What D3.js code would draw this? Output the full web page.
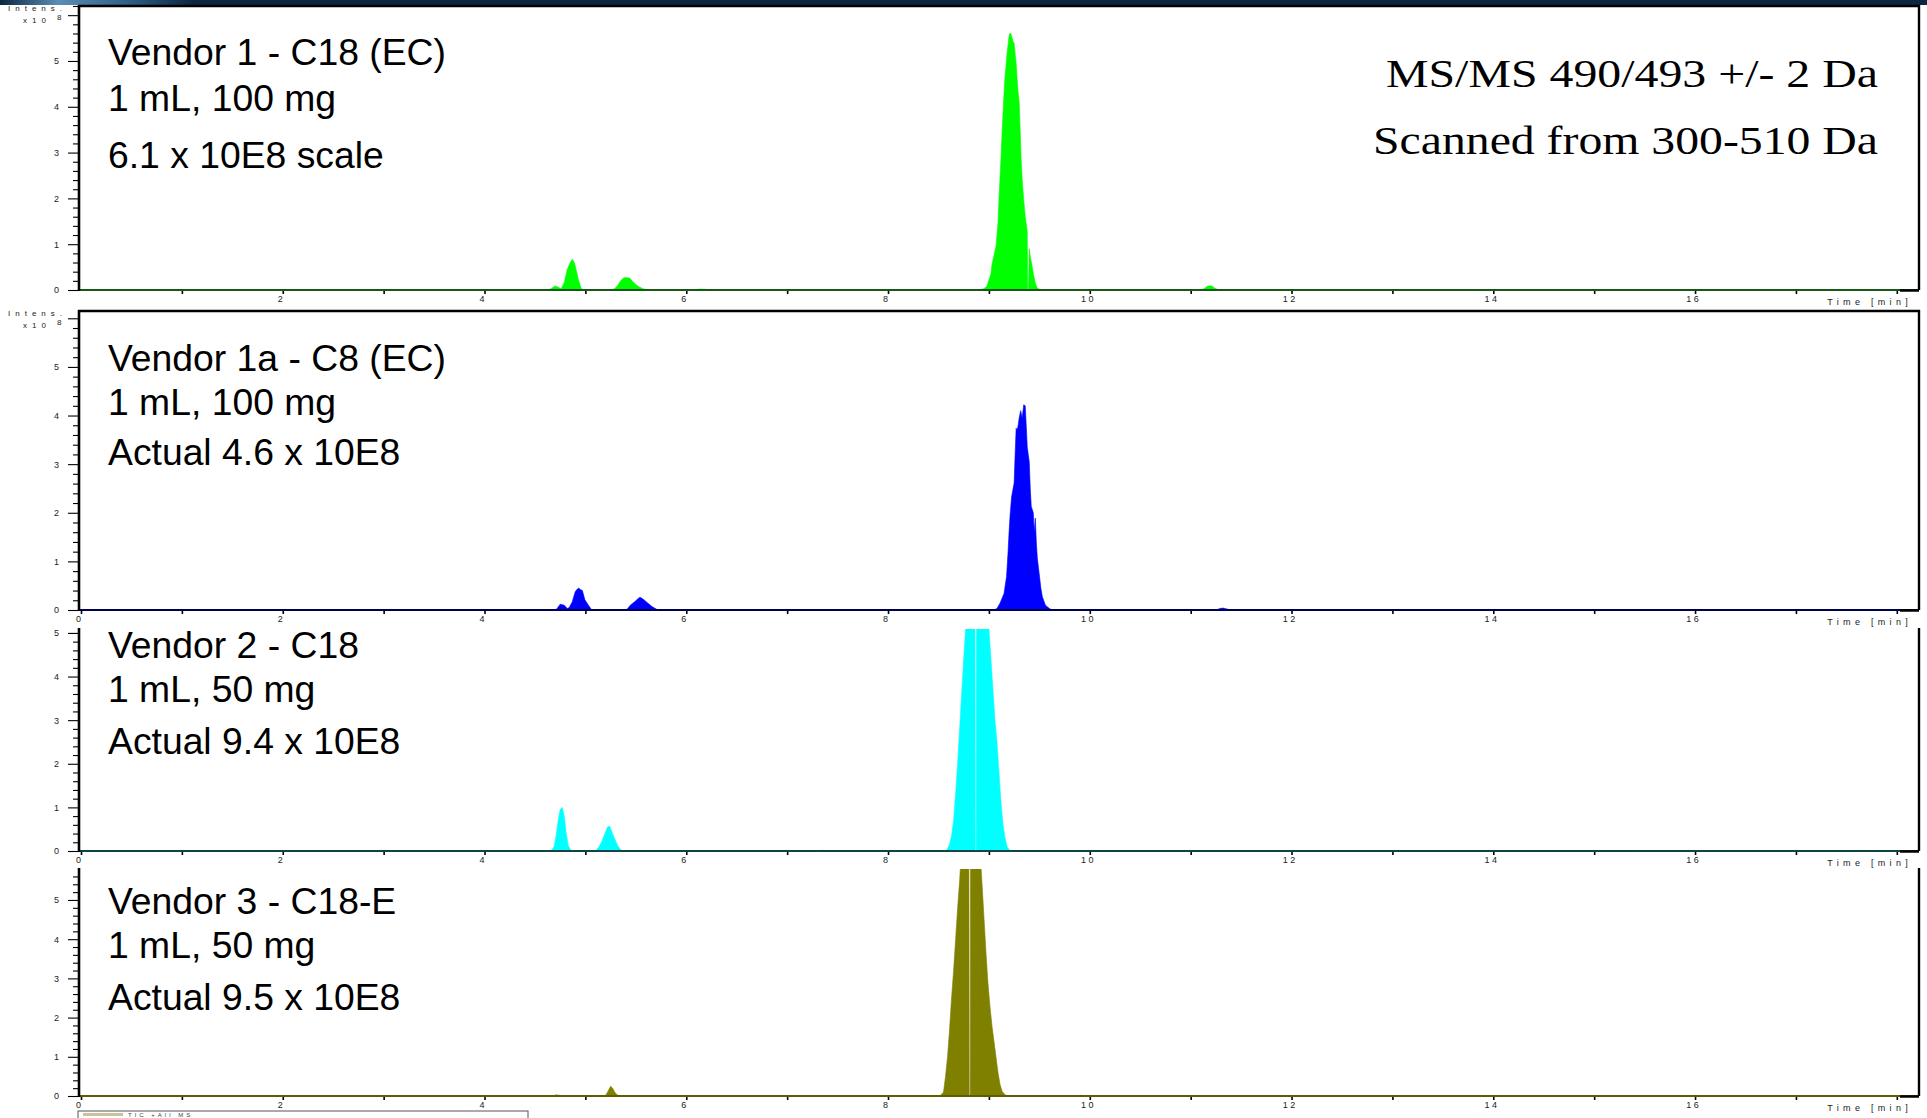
<!DOCTYPE html>
<html>
<head>
<meta charset="utf-8">
<script src="https://cdn.jsdelivr.net/npm/d3@7"></script>
<style>
  html, body { margin: 0; padding: 0; background: #ffffff; overflow: hidden; }
  svg { display: block; }
</style>
</head>
<body>
<script>
// ---------------- DATA ----------------
// Time axis ticks (minutes)
const timeTicks = [0,1,2,3,4,5,6,7,8,9,10,11,12,13,14,15,16,17,18];
const timeLabels = [0,2,4,6,8,10,12,14,16];
const intensityLabels = [0,1,2,3,4,5];

// Panel annotation text
const panelLabels = [
  ["Vendor 1 - C18 (EC)", "1 mL, 100 mg", "6.1 x 10E8 scale"],
  ["Vendor 1a - C8 (EC)", "1 mL, 100 mg", "Actual 4.6 x 10E8"],
  ["Vendor 2 - C18", "1 mL, 50 mg", "Actual 9.4 x 10E8"],
  ["Vendor 3 - C18-E", "1 mL, 50 mg", "Actual 9.5 x 10E8"]
];
const methodNotes = ["MS/MS 490/493 +/- 2 Da", "Scanned from 300-510 Da"];

// Chromatogram traces: [time (min), intensity (x10^8)]
const vendor1Trace = [[0,0],[4.62,0],[4.66,0.03],[4.70,0.09],[4.73,0.06],[4.76,0.03],[4.79,0.16],[4.82,0.45],[4.85,0.6],[4.87,0.67],[4.89,0.6],[4.90,0.52],[4.93,0.23],[4.96,0.03],[4.99,0],
  [5.25,0],[5.29,0.03],[5.32,0.1],[5.35,0.2],[5.38,0.27],[5.41,0.27],[5.44,0.26],[5.47,0.18],[5.50,0.12],[5.53,0.07],[5.57,0.03],[5.62,0],
  [6.08,0],[6.12,0.02],[6.18,0.02],[6.22,0],
  [8.90,0],[8.95,0.03],[8.98,0.08],[9.00,0.22],[9.02,0.35],[9.03,0.55],[9.05,0.75],[9.07,0.95],[9.09,1.46],[9.10,2.0],[9.12,2.88],[9.13,3.4],[9.14,3.86],[9.15,4.3],[9.16,4.66],[9.17,4.9],[9.18,5.17],[9.19,5.35],[9.20,5.55],[9.21,5.61],[9.22,5.58],[9.23,5.5],[9.24,5.42],[9.25,5.39],[9.26,5.15],[9.27,4.95],[9.28,4.6],[9.29,4.3],[9.30,4.11],[9.31,3.5],[9.32,2.84],[9.33,2.4],[9.345,1.97],[9.36,1.6],[9.38,1.28],[9.385,0],[9.393,0],[9.40,0.9],[9.41,0.73],[9.43,0.5],[9.44,0.36],[9.46,0.15],[9.48,0.04],[9.52,0],
  [11.10,0],[11.14,0.04],[11.17,0.09],[11.21,0.09],[11.24,0.04],[11.28,0],[18.22,0]];

const vendor1aTrace = [[0,0],[4.70,0],[4.72,0.03],[4.75,0.12],[4.77,0.11],[4.79,0.10],[4.82,0.03],[4.84,0.05],[4.87,0.17],[4.90,0.38],[4.92,0.43],[4.935,0.45],[4.95,0.42],[4.97,0.40],[4.995,0.21],[5.03,0.10],[5.06,0.01],[5.09,0],
  [5.40,0],[5.42,0.03],[5.445,0.1],[5.47,0.14],[5.50,0.19],[5.52,0.23],[5.54,0.26],[5.56,0.24],[5.58,0.21],[5.62,0.14],[5.66,0.07],[5.71,0.01],[5.74,0],
  [9.03,0],[9.06,0.01],[9.08,0.03],[9.11,0.14],[9.15,0.34],[9.175,0.69],[9.19,1.2],[9.20,1.61],[9.21,1.95],[9.225,2.33],[9.24,2.5],[9.25,2.61],[9.26,3.2],[9.27,3.74],[9.28,3.7],[9.29,3.8],[9.30,3.95],[9.315,4.10],[9.33,3.95],[9.345,4.22],[9.36,4.2],[9.37,3.8],[9.38,3.36],[9.39,3.2],[9.40,3.05],[9.41,2.5],[9.42,2.13],[9.44,2.0],[9.45,1.6],[9.46,1.89],[9.47,1.4],[9.48,1.07],[9.50,0.72],[9.515,0.45],[9.53,0.27],[9.56,0.10],[9.60,0.03],[9.63,0],
  [11.25,0],[11.29,0.03],[11.32,0.04],[11.36,0.02],[11.40,0],[18.22,0]];

const vendor2Trace = [[0,0],[4.66,0],[4.69,0.1],[4.71,0.35],[4.73,0.7],[4.75,0.95],[4.77,1.0],[4.79,0.8],[4.81,0.4],[4.83,0.12],[4.86,0],
  [5.10,0],[5.13,0.08],[5.16,0.2],[5.19,0.38],[5.22,0.55],[5.24,0.57],[5.26,0.45],[5.29,0.28],[5.32,0.12],[5.35,0.03],[5.38,0],
  [7.30,0],[7.35,0.02],[7.40,0],
  [8.57,0],[8.59,0.05],[8.61,0.15],[8.63,0.35],[8.65,0.7],[8.67,1.3],[8.69,2.0],[8.71,2.8],[8.73,3.6],[8.75,4.4],[8.77,5.1],[8.80,6.6],[8.83,7.9],[8.86,8.9],[8.865,0],[8.875,0],[8.88,9.4],[8.91,9.0],[8.94,7.9],[8.97,6.5],[9.00,5.1],[9.02,4.4],[9.04,3.7],[9.06,3.0],[9.08,2.5],[9.10,1.8],[9.12,1.1],[9.14,0.6],[9.16,0.3],[9.18,0.1],[9.21,0],
  [15.41,0],[15.44,0.015],[15.47,0],[18.22,0]];

const vendor3Trace = [[0,0],[4.68,0],[4.71,0.03],[4.74,0.02],[4.76,0],
  [5.19,0],[5.21,0.05],[5.23,0.15],[5.25,0.25],[5.27,0.2],[5.29,0.1],[5.31,0.04],[5.34,0],
  [8.51,0],[8.53,0.04],[8.55,0.1],[8.57,0.5],[8.59,1.0],[8.61,1.7],[8.63,2.5],[8.65,3.2],[8.67,4.0],[8.69,4.8],[8.71,5.5],[8.73,6.4],[8.76,7.6],[8.78,8.8],[8.80,9.5],[8.805,0],[8.815,0],[8.82,9.3],[8.85,8.6],[8.88,7.5],[8.91,6.3],[8.93,5.5],[8.95,4.6],[8.97,3.7],[8.99,2.9],[9.01,2.3],[9.03,1.8],[9.05,1.4],[9.07,1.0],[9.09,0.6],[9.11,0.3],[9.13,0.12],[9.16,0.03],[9.19,0],
  [9.88,0],[9.91,0.02],[9.94,0],[15.97,0],[16.0,0.02],[16.03,0],[18.22,0]];

const traces = [vendor1Trace, vendor1aTrace, vendor2Trace, vendor3Trace];
const traceColors = ["#00ff00", "#0000ff", "#00ffff", "#808000"];
const baselineColors = ["#145a14", "#000050", "#0f4444", "#5e5e00"];

// ---------------- LAYOUT ----------------
const W = 1927, H = 1118;
const axisX = 79, rightX = 1919;
const layout = [
  { top: 6,   base: 290,  yMax: 6.20, border: true,  intens: true,  firstLabel: 2, labelY: [65, 111, 168] },
  { top: 311, base: 610,  yMax: 6.15, border: true,  intens: true,  firstLabel: 0, labelY: [371, 415, 465] },
  { top: 629, base: 851,  yMax: 5.09, border: false, intens: false, firstLabel: 0, labelY: [658, 702, 754] },
  { top: 869, base: 1096, yMax: 5.79, border: false, intens: false, firstLabel: 0, labelY: [914, 958, 1010] }
];

const svg = d3.select("body").append("svg").attr("width", W).attr("height", H);

// top banner strip (slide header remnant)
const defs = svg.append("defs");
const grad = defs.append("linearGradient").attr("id", "bannerGrad").attr("x1", "0").attr("x2", "1");
grad.append("stop").attr("offset", "0").attr("stop-color", "#0b2640");
grad.append("stop").attr("offset", "0.03").attr("stop-color", "#5b8db5");
grad.append("stop").attr("offset", "0.07").attr("stop-color", "#2a5a80");
grad.append("stop").attr("offset", "0.1").attr("stop-color", "#0b2640");
grad.append("stop").attr("offset", "1").attr("stop-color", "#0b2640");
svg.append("rect").attr("x", 0).attr("y", 0).attr("width", W).attr("height", 5).attr("fill", "url(#bannerGrad)");

const x = d3.scaleLinear().domain([0, 18.22]).range([81, rightX]);
const smallFont = "'Liberation Sans', Arial, sans-serif";
const spaced = s => String(s).split("").join(" ");

layout.forEach((p, i) => {
  const g = svg.append("g");
  const y = d3.scaleLinear().domain([0, p.yMax]).range([p.base, p.top]);

  defs.append("clipPath").attr("id", "clip" + i)
    .append("rect").attr("x", axisX).attr("y", p.top).attr("width", rightX - axisX).attr("height", p.base - p.top);

  // trace
  const area = d3.area().x(d => x(d[0])).y0(y(0)).y1(d => y(d[1])).curve(d3.curveLinear);
  g.append("path").datum(traces[i])
    .attr("clip-path", "url(#clip" + i + ")")
    .attr("fill", traceColors[i]).attr("stroke", traceColors[i]).attr("stroke-width", 0.6)
    .attr("d", area);

  // x axis
  const xTicks = timeTicks.filter(t => t >= (i === 0 ? 1 : 0));
  const xAxis = d3.axisBottom(x).tickValues(xTicks).tickSize(4).tickSizeOuter(0)
    .tickFormat(d => (timeLabels.includes(d) && d >= p.firstLabel) ? spaced(d) : "");
  const xg = g.append("g").attr("transform", `translate(0,${p.base})`).call(xAxis);
  xg.select(".domain").remove();
  xg.selectAll(".tick line").attr("stroke", "#000").attr("stroke-width", 1.6);
  xg.selectAll(".tick text").attr("font-family", smallFont).attr("font-size", 9).attr("fill", "#222")
    .attr("dy", "0.35em").attr("y", 9).attr("dx", -3);
  g.append("line").attr("x1", axisX).attr("x2", rightX).attr("y1", p.base).attr("y2", p.base)
    .attr("stroke", baselineColors[i]).attr("stroke-width", 2.2);
  g.append("line").attr("x1", 1900).attr("x2", rightX).attr("y1", p.base + 0.5).attr("y2", p.base + 0.5)
    .attr("stroke", "#000").attr("stroke-width", 2.5);
  g.append("text").attr("x", 1912).attr("y", p.base + 15).attr("text-anchor", "end")
    .attr("font-family", smallFont).attr("font-size", 9).attr("fill", "#222")
    .attr("letter-spacing", "4.3px").text("Time [min]");

  // y axis: minor ticks every 0.2, major at integers
  const minor = d3.range(0, Math.floor(p.yMax * 5 + 1e-6) + 1).map(k => +(k * 0.2).toFixed(1)).filter(v => Math.abs(v - Math.round(v)) > 1e-6);
  const major = d3.range(0, Math.floor(p.yMax) + 1);
  const yMinor = d3.axisLeft(y).tickValues(minor).tickSize(6).tickFormat("");
  const yMajor = d3.axisLeft(y).tickValues(major).tickSize(11).tickSizeOuter(0)
    .tickFormat(d => intensityLabels.includes(d) ? d : "");
  const ymg = g.append("g").attr("transform", `translate(${axisX},0)`).call(yMinor);
  ymg.select(".domain").remove();
  ymg.selectAll(".tick line").attr("stroke", "#000").attr("stroke-width", 1.1);
  const yg = g.append("g").attr("transform", `translate(${axisX},0)`).call(yMajor);
  yg.select(".domain").remove();
  yg.selectAll(".tick line").attr("stroke", "#000").attr("stroke-width", 1.1);
  yg.selectAll(".tick text").attr("font-family", smallFont).attr("font-size", 9).attr("fill", "#222").attr("x", -20);
  g.append("line").attr("x1", axisX).attr("x2", axisX).attr("y1", p.top - 1).attr("y2", p.base + 1)
    .attr("stroke", "#000").attr("stroke-width", 2.6);

  // frame
  g.append("line").attr("x1", rightX).attr("x2", rightX).attr("y1", p.top - 1).attr("y2", p.base)
    .attr("stroke", "#000").attr("stroke-width", 2.4);
  if (p.border) {
    g.append("line").attr("x1", axisX - 1).attr("x2", rightX + 1).attr("y1", p.top).attr("y2", p.top)
      .attr("stroke", "#000").attr("stroke-width", 2.6);
  }

  // intensity unit label
  if (p.intens) {
    g.append("text").attr("x", 8).attr("y", p.top + 4.5).attr("font-family", smallFont).attr("font-size", 8)
      .attr("fill", "#222").attr("letter-spacing", "5px").text("Intens.");
    g.append("text").attr("x", 23).attr("y", p.top + 17).attr("font-family", smallFont).attr("font-size", 8)
      .attr("fill", "#222").attr("letter-spacing", "5px").text("x10");
    g.append("text").attr("x", 57).attr("y", p.top + 13.5).attr("font-family", smallFont).attr("font-size", 8)
      .attr("fill", "#222").text("8");
  }

  // annotation text
  panelLabels[i].forEach((line, k) => {
    g.append("text").attr("x", 108).attr("y", p.labelY[k])
      .attr("font-family", "'Liberation Sans', Arial, sans-serif").attr("font-size", 37.3)
      .attr("fill", "#000").text(line);
  });
});

// method notes (top-right)
const noteY = [87, 154];
const noteW = [492, 505];
methodNotes.forEach((t, k) => {
  svg.append("text").attr("x", 1878).attr("y", noteY[k]).attr("text-anchor", "end")
    .attr("font-family", "'Liberation Serif', 'Times New Roman', serif").attr("font-size", 41)
    .attr("textLength", noteW[k]).attr("lengthAdjust", "spacingAndGlyphs")
    .attr("fill", "#000").text(t);
});

// legend remnant at the bottom
svg.append("rect").attr("x", 78).attr("y", 1111).attr("width", 450).attr("height", 12)
  .attr("fill", "none").attr("stroke", "#555").attr("stroke-width", 1);
svg.append("rect").attr("x", 83).attr("y", 1113).attr("width", 40).attr("height", 3).attr("fill", "#c9c29a");
svg.append("text").attr("x", 128).attr("y", 1117).attr("font-family", smallFont).attr("font-size", 6)
  .attr("fill", "#444").attr("letter-spacing", "3px").text("TIC +All MS");
</script>
</body>
</html>
